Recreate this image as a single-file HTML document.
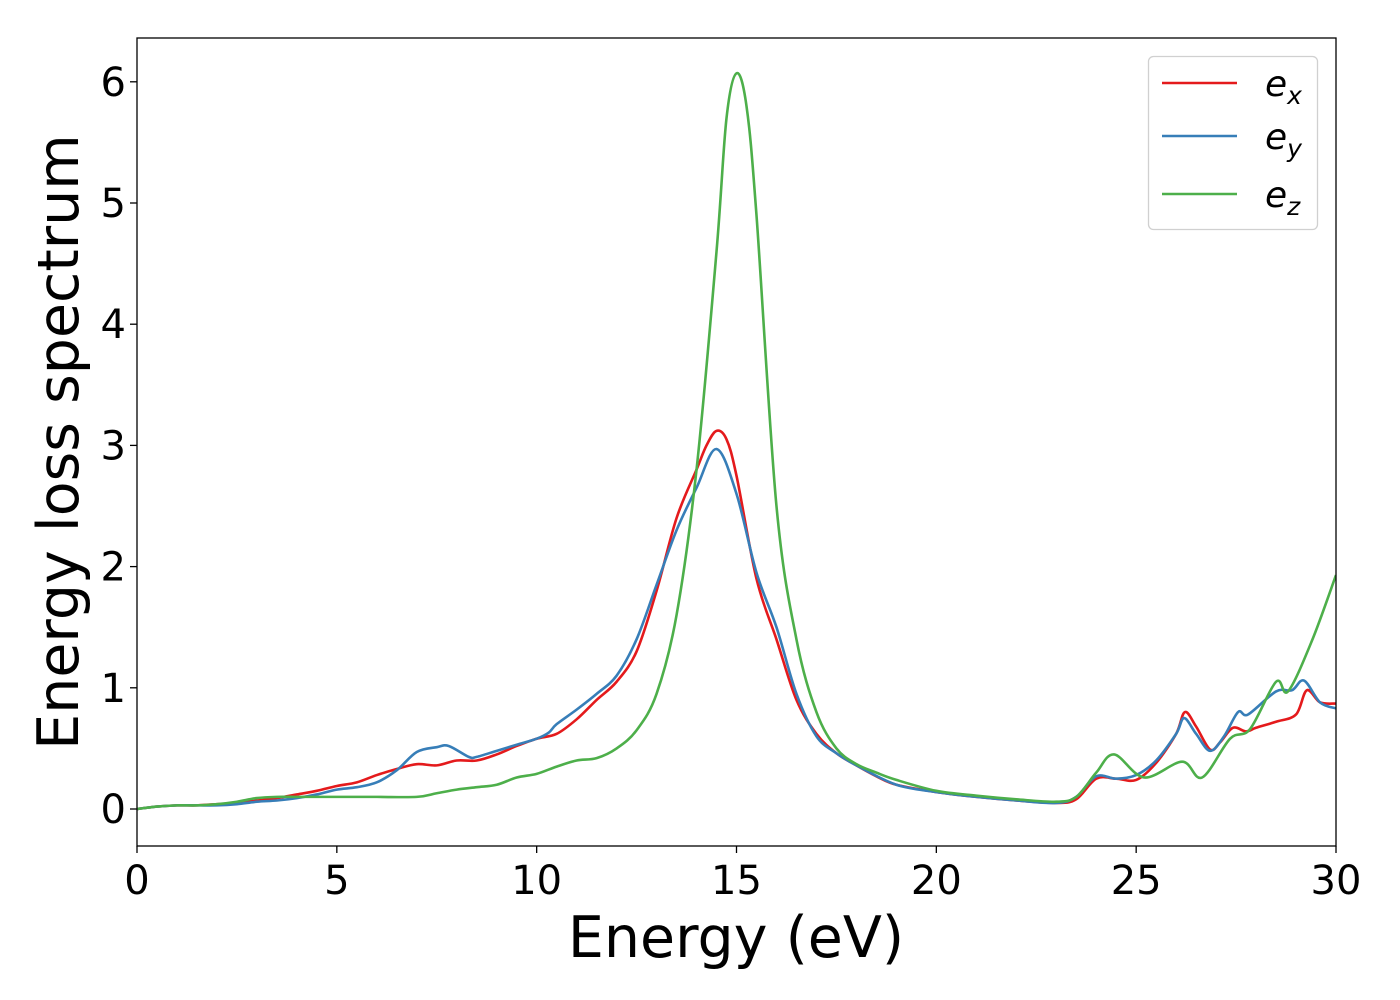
<!DOCTYPE html>
<html><head><meta charset="utf-8"><style>
html,body{margin:0;padding:0;background:#fff;}
svg{display:block;font-family:"DejaVu Sans","Liberation Sans",sans-serif;}
</style></head><body>
<svg id="chart" width="1400" height="1000" viewBox="0 0 1400 1000">
<rect x="0" y="0" width="1400" height="1000" fill="#fff"/>
<g id="plot"></g>
<rect x="137" y="38" width="1199" height="808" fill="none" stroke="#000" stroke-width="1.3"/>
<g id="xticks"></g>
<g id="yticks"></g>
<text x="736" y="957" font-size="57" text-anchor="middle">Energy (eV)</text>
<text transform="translate(78,442) rotate(-90)" font-size="57" text-anchor="middle">Energy loss spectrum</text>
<g>
<rect x="1148.5" y="56.5" width="169" height="173" rx="5" fill="#fff" stroke="#d0d0d0" stroke-width="1.3"/>
<g><line x1="1162" y1="83" x2="1237" y2="83" stroke="#e41a1c" stroke-width="2.6"/><text x="1265" y="96" font-size="36" font-style="italic">e<tspan font-size="25" dy="8">x</tspan></text></g>
<g><line x1="1162" y1="136" x2="1237" y2="136" stroke="#377eb8" stroke-width="2.6"/><text x="1265" y="149" font-size="36" font-style="italic">e<tspan font-size="25" dy="8">y</tspan></text></g>
<g><line x1="1162" y1="194" x2="1237" y2="194" stroke="#4daf4a" stroke-width="2.6"/><text x="1265" y="207" font-size="36" font-style="italic">e<tspan font-size="25" dy="8">z</tspan></text></g>
</g>
</svg>
<script>
const xTicks=[0,5,10,15,20,25,30];
const yTicks=[0,1,2,3,4,5,6];
const exE=[0,0.5,1,1.5,2,2.5,3,3.5,4,4.5,5,5.5,6,6.5,7,7.5,8,8.5,9,9.5,10,10.5,11,11.5,12,12.5,13,13.5,14,14.25,14.5,14.75,15,15.5,16,16.5,17,17.5,18,18.5,19,20,21,22,23,23.5,24,24.5,25,25.5,26,26.22,26.5,26.85,27.1,27.42,27.75,28,28.5,29,29.27,29.6,30];
const exV=[0,0.02,0.03,0.03,0.04,0.05,0.07,0.09,0.12,0.15,0.19,0.22,0.28,0.33,0.37,0.36,0.40,0.40,0.45,0.52,0.58,0.62,0.74,0.90,1.05,1.30,1.8,2.4,2.8,3.0,3.12,3.05,2.75,1.9,1.4,0.9,0.62,0.46,0.36,0.27,0.2,0.14,0.10,0.07,0.05,0.08,0.25,0.25,0.24,0.38,0.62,0.80,0.68,0.49,0.55,0.67,0.64,0.67,0.72,0.78,0.98,0.88,0.87];
const eyE=[0,0.5,1,1.5,2,2.5,3,3.5,4,4.5,5,5.5,6,6.5,7,7.5,7.8,8.3,8.5,9,9.5,10,10.3,10.5,11,11.5,12,12.5,13,13.5,14,14.5,15,15.5,16,16.5,17,17.5,18,19,20,21,22,23,23.5,24,24.5,25,25.5,26,26.2,26.5,26.85,27.2,27.55,27.8,28.5,28.9,29.2,29.6,30];
const eyV=[0,0.02,0.03,0.03,0.03,0.04,0.06,0.07,0.09,0.12,0.16,0.18,0.22,0.32,0.47,0.51,0.52,0.43,0.43,0.48,0.53,0.58,0.63,0.7,0.82,0.95,1.1,1.4,1.85,2.3,2.65,2.97,2.6,1.95,1.5,0.95,0.6,0.46,0.36,0.2,0.14,0.1,0.07,0.05,0.1,0.27,0.25,0.28,0.4,0.62,0.75,0.62,0.48,0.6,0.8,0.78,0.97,0.98,1.06,0.88,0.83];
const ezE=[0,0.5,1,1.5,2,2.5,3,3.5,4,5,6,7,7.5,8,8.5,9,9.5,10,10.5,11,11.5,12,12.5,13,13.5,14,14.5,14.75,15,15.25,15.5,16,16.5,17,17.5,18,18.5,19,20,21,22,23,23.5,24,24.45,25.2,26.15,26.65,27.35,27.85,28.5,28.8,29.4,30];
const ezV=[0,0.02,0.03,0.03,0.04,0.06,0.09,0.1,0.1,0.1,0.1,0.1,0.13,0.16,0.18,0.2,0.26,0.29,0.35,0.4,0.42,0.5,0.65,0.95,1.6,2.8,4.6,5.7,6.07,5.8,4.9,2.5,1.4,0.8,0.5,0.37,0.3,0.24,0.15,0.11,0.08,0.06,0.1,0.3,0.45,0.26,0.39,0.26,0.58,0.66,1.05,0.97,1.39,1.93];
const NS='http://www.w3.org/2000/svg';
const X0=137,X1=1336,Y0=809,YS=121.2;
function sx(v){return X0+(X1-X0)*v/30;}
function sy(v){return Y0-v*YS;}
function mk(tag,attrs,parent){const e=document.createElementNS(NS,tag);for(const k in attrs)e.setAttribute(k,attrs[k]);parent.appendChild(e);return e;}
function pathD(E,V){const p=E.map((e,i)=>[sx(e),sy(V[i])]);let d='M'+p[0][0]+','+p[0][1];
for(let i=0;i<p.length-1;i++){const a=p[Math.max(0,i-1)],b=p[i],c=p[i+1],n=p[Math.min(p.length-1,i+2)];
const c1=[b[0]+(c[0]-a[0])/6,b[1]+(c[1]-a[1])/6],c2=[c[0]-(n[0]-b[0])/6,c[1]-(n[1]-b[1])/6];
d+=' C'+c1[0]+','+c1[1]+' '+c2[0]+','+c2[1]+' '+c[0]+','+c[1];}return d;}
const plot=document.getElementById('plot');
const clip=mk('clipPath',{id:'cp'},mk('defs',{},document.getElementById('chart')));
mk('rect',{x:X0,y:38,width:X1-X0,height:808},clip);
plot.setAttribute('clip-path','url(#cp)');
[[exE,exV,'#e41a1c','series-ex'],[eyE,eyV,'#377eb8','series-ey'],[ezE,ezV,'#4daf4a','series-ez']].forEach(s=>{
const el=mk('path',{d:pathD(s[0],s[1]),fill:'none',stroke:s[2],'stroke-width':2.6,'stroke-linejoin':'round'},plot);

});
const xg=document.getElementById('xticks'),yg=document.getElementById('yticks');
xTicks.forEach(t=>{const g=mk('g',{},xg);


mk('line',{x1:sx(t),x2:sx(t),y1:846,y2:853,stroke:'#000','stroke-width':1.3},g);
const tx=mk('text',{x:sx(t),y:894,'font-size':40,'text-anchor':'middle'},g);tx.textContent=t;});
yTicks.forEach(t=>{const g=mk('g',{},yg);


mk('line',{x1:130,x2:137,y1:sy(t),y2:sy(t),stroke:'#000','stroke-width':1.3},g);
const tx=mk('text',{x:126,y:sy(t)+14,'font-size':40,'text-anchor':'end'},g);tx.textContent=t;});
</script>
</body></html>
